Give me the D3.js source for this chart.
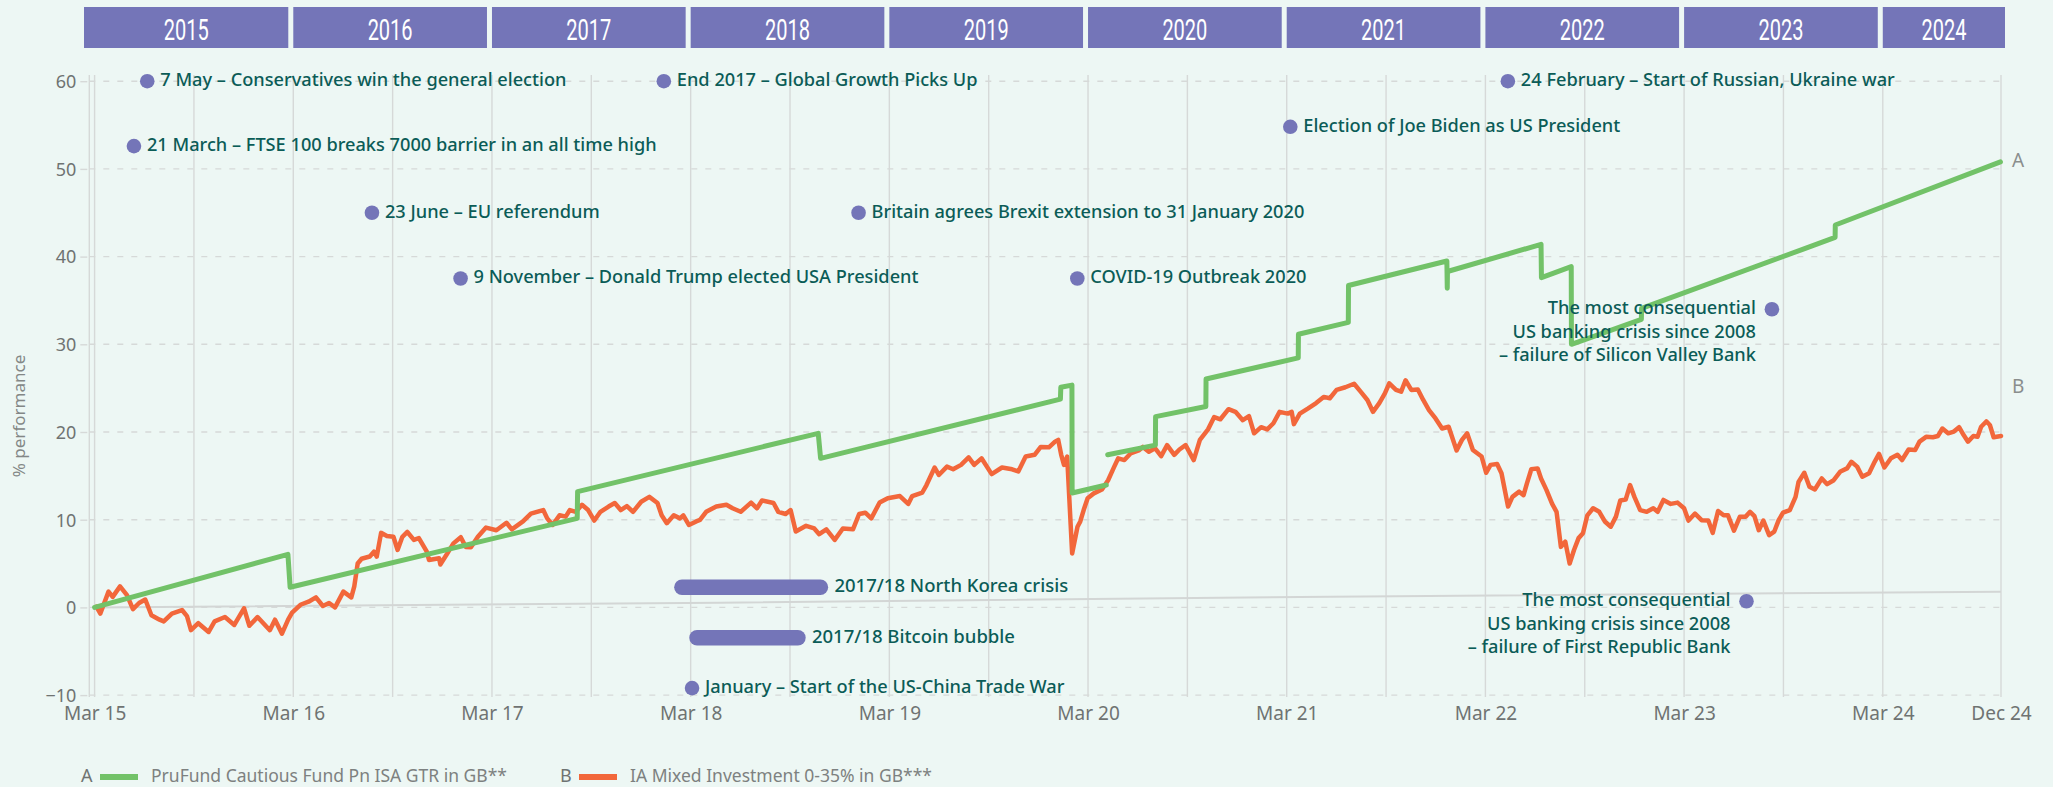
<!DOCTYPE html>
<html>
<head>
<meta charset="utf-8">
<script src="https://cdn.jsdelivr.net/npm/d3@7"></script>
<style>
  html, body { margin: 0; padding: 0; background: #edf7f4; }
  svg { display: block; }
</style>
</head>
<body>
<div id="chart"></div>
<script>
// x values are years since March 2015, y values are % performance

const years = [2015, 2016, 2017, 2018, 2019, 2020, 2021, 2022, 2023, 2024];
const xTicks = [0, 1, 2, 3, 4, 5, 6, 7, 8, 9, 9.595];
const xTickLabels = ["Mar 15", "Mar 16", "Mar 17", "Mar 18", "Mar 19", "Mar 20", "Mar 21", "Mar 22", "Mar 23", "Mar 24", "Dec 24"];
const xGrid = [0, 0.5, 1, 1.5, 2, 2.5, 3, 3.5, 4, 4.5, 5, 5.5, 6, 6.5, 7, 7.5, 8, 8.5, 9, 9.595];
const yTicks = [-10, 0, 10, 20, 30, 40, 50, 60];

const seriesKeys = ["A", "B"];
const seriesNames = ["PruFund Cautious Fund Pn ISA GTR in GB**", "IA Mixed Investment 0-35% in GB***"];
const endLabelValues = [50.8, 25];

// A - PruFund Cautious (smoothed, with unit price adjustments)
const pruFund = [
  [0, 0], [0.973, 6.05], [0.984, 2.3], [2.429, 10.15], [2.431, 13.2],
  [3.642, 19.85], [3.654, 17.0], [4.861, 23.75], [4.863, 25.1], [4.919, 25.35],
  [4.920, 13.05], [5.092, 13.95], null,
  [5.099, 17.4], [5.339, 18.5], [5.340, 21.75], [5.593, 22.9], [5.594, 26.05],
  [6.058, 28.45], [6.059, 31.15], [6.310, 32.5], [6.311, 36.7], [6.806, 39.5],
  [6.808, 36.4], [6.809, 38.3], [7.280, 41.4], [7.282, 37.6], [7.432, 38.85],
  [7.433, 30.0], [7.785, 32.85], [7.786, 34.1], [8.593, 40.8], [8.760, 42.2],
  [8.761, 43.6], [9.592, 50.8]
];

// B - IA Mixed Investment 0-35%
const mixedInvest = [
  [0.009, 0.08], [0.029, -0.7], [0.070, 1.8], [0.091, 1.2], [0.128, 2.4], [0.163, 1.4],
  [0.193, -0.2], [0.224, 0.5], [0.255, 0.9], [0.286, -0.9], [0.327, -1.4], [0.348, -1.6],
  [0.389, -0.7], [0.440, -0.3], [0.465, -1.0], [0.485, -2.6], [0.522, -1.8], [0.574, -2.8],
  [0.604, -1.6], [0.656, -1.1], [0.703, -2.0], [0.752, -0.1], [0.779, -2.1], [0.820, -1.1],
  [0.882, -2.6], [0.908, -1.4], [0.943, -3.0], [0.974, -1.4], [0.994, -0.6], [1.036, 0.3],
  [1.077, 0.65], [1.114, 1.15], [1.149, 0.16], [1.180, 0.5], [1.210, 0.0], [1.252, 1.8],
  [1.292, 1.15], [1.307, 2.4], [1.324, 5.0], [1.344, 5.55], [1.385, 5.8], [1.406, 6.35],
  [1.420, 5.8], [1.442, 8.5], [1.471, 8.15], [1.504, 8.05], [1.525, 6.55], [1.549, 8.05],
  [1.574, 8.6], [1.607, 7.7], [1.632, 7.9], [1.672, 6.35], [1.683, 5.4], [1.734, 5.6],
  [1.740, 4.9], [1.775, 6.15], [1.806, 7.3], [1.843, 8.0], [1.868, 6.9], [1.894, 6.85],
  [1.929, 8.05], [1.970, 9.1], [2.022, 8.8], [2.073, 9.65], [2.100, 8.9], [2.156, 9.8],
  [2.196, 10.7], [2.258, 11.1], [2.278, 10.15], [2.305, 9.4], [2.340, 10.5], [2.371, 10.35],
  [2.392, 11.1], [2.422, 10.9], [2.453, 11.7], [2.484, 11.1], [2.515, 9.9], [2.546, 10.9],
  [2.587, 11.5], [2.618, 11.9], [2.648, 11.1], [2.679, 11.55], [2.710, 10.9], [2.751, 12.05],
  [2.792, 12.6], [2.833, 11.9], [2.854, 10.5], [2.880, 9.6], [2.915, 10.5], [2.946, 10.15],
  [2.963, 10.5], [2.991, 9.4], [3.028, 9.8], [3.047, 9.97], [3.078, 10.9], [3.129, 11.5],
  [3.180, 11.7], [3.211, 11.3], [3.252, 10.9], [3.304, 11.95], [3.334, 11.3], [3.359, 12.2],
  [3.417, 11.9], [3.441, 10.9], [3.478, 10.65], [3.503, 11.1], [3.529, 8.65], [3.581, 9.3],
  [3.622, 9.0], [3.647, 8.35], [3.683, 8.9], [3.725, 7.7], [3.766, 9.0], [3.817, 8.9],
  [3.848, 10.65], [3.879, 10.8], [3.909, 10.15], [3.951, 11.95], [3.992, 12.45], [4.053, 12.7],
  [4.095, 11.8], [4.115, 12.7], [4.166, 13.1], [4.187, 13.95], [4.228, 15.95], [4.249, 15.1],
  [4.290, 16.05], [4.321, 15.75], [4.361, 16.25], [4.399, 17.1], [4.427, 16.25], [4.464, 17.0],
  [4.515, 15.2], [4.567, 15.95], [4.618, 15.75], [4.649, 15.5], [4.686, 17.2], [4.731, 17.4],
  [4.762, 18.3], [4.803, 18.25], [4.834, 18.9], [4.850, 19.1], [4.865, 17.4], [4.879, 16.25],
  [4.895, 17.2], [4.920, 6.15], [4.947, 9.2], [4.961, 9.8], [4.978, 11.1], [4.998, 12.45],
  [5.029, 13.0], [5.070, 13.45], [5.101, 14.5], [5.132, 16.05], [5.152, 17.0], [5.183, 16.8],
  [5.214, 17.55], [5.255, 17.9], [5.276, 18.3], [5.306, 17.75], [5.337, 18.15], [5.368, 17.25],
  [5.398, 18.5], [5.434, 17.4], [5.460, 18.0], [5.491, 18.5], [5.532, 16.8], [5.563, 19.1],
  [5.604, 20.3], [5.635, 21.7], [5.666, 21.45], [5.707, 22.6], [5.742, 22.3], [5.779, 21.35],
  [5.810, 21.8], [5.836, 19.85], [5.871, 20.55], [5.902, 20.3], [5.933, 21.0], [5.964, 22.3],
  [6.005, 22.1], [6.025, 22.3], [6.036, 20.9], [6.066, 22.1], [6.108, 22.7], [6.148, 23.3],
  [6.186, 24.0], [6.217, 23.85], [6.251, 24.8], [6.295, 25.1], [6.339, 25.5], [6.372, 24.6],
  [6.406, 23.65], [6.434, 22.3], [6.466, 23.3], [6.494, 24.4], [6.516, 25.55], [6.550, 24.8],
  [6.576, 24.6], [6.598, 25.9], [6.627, 24.8], [6.660, 24.85], [6.687, 23.65], [6.716, 22.5],
  [6.749, 21.55], [6.782, 20.4], [6.815, 20.6], [6.855, 17.9], [6.882, 19.1], [6.908, 19.85],
  [6.937, 17.95], [6.981, 17.2], [7.004, 15.35], [7.026, 16.25], [7.059, 16.35], [7.081, 15.3],
  [7.114, 11.5], [7.136, 12.6], [7.170, 13.2], [7.192, 12.8], [7.209, 14.15], [7.231, 15.75],
  [7.263, 15.85], [7.280, 14.7], [7.307, 13.4], [7.336, 11.8], [7.358, 10.9], [7.380, 6.9],
  [7.402, 7.5], [7.424, 5.0], [7.446, 6.55], [7.469, 7.9], [7.491, 8.45], [7.513, 10.5],
  [7.542, 11.3], [7.573, 10.9], [7.601, 9.8], [7.631, 9.2], [7.657, 10.35], [7.679, 12.2],
  [7.706, 12.3], [7.728, 13.95], [7.750, 12.6], [7.779, 11.1], [7.812, 10.9], [7.845, 11.3],
  [7.867, 10.9], [7.896, 12.25], [7.933, 11.8], [7.967, 11.95], [8.000, 11.3], [8.022, 9.9],
  [8.055, 10.7], [8.088, 9.95], [8.122, 9.9], [8.144, 8.5], [8.171, 11.0], [8.199, 10.5],
  [8.221, 10.5], [8.251, 8.75], [8.281, 10.35], [8.310, 10.35], [8.332, 10.9], [8.354, 10.4],
  [8.376, 8.8], [8.399, 9.9], [8.428, 8.25], [8.454, 8.65], [8.476, 9.95], [8.498, 10.8],
  [8.532, 11.1], [8.561, 12.6], [8.576, 14.3], [8.605, 15.35], [8.631, 13.75], [8.658, 13.45],
  [8.693, 14.7], [8.720, 14.05], [8.753, 14.5], [8.787, 15.5], [8.820, 15.85], [8.842, 16.6],
  [8.871, 16.05], [8.897, 14.9], [8.931, 15.3], [8.959, 16.6], [8.981, 17.5], [9.008, 15.95],
  [9.041, 17.0], [9.074, 17.4], [9.097, 16.8], [9.130, 18.0], [9.163, 17.95], [9.185, 18.9],
  [9.218, 19.45], [9.252, 19.4], [9.278, 19.55], [9.300, 20.4], [9.329, 19.85], [9.358, 20.05],
  [9.384, 20.55], [9.407, 19.65], [9.429, 18.9], [9.456, 19.55], [9.477, 19.45], [9.495, 20.6],
  [9.521, 21.2], [9.539, 20.8], [9.558, 19.4], [9.595, 19.55]
];

// thin grey reference line
const baseline = [[0, 0], [3.15, 0.54], [6.22, 1.22], [9.595, 1.79]];

// dated events (dot + text)
const events = [
  {t: 0.265, v: 60, side: "right", text: ["7 May – Conservatives win the general election"]},
  {t: 0.198, v: 52.6, side: "right", text: ["21 March – FTSE 100 breaks 7000 barrier in an all time high"]},
  {t: 1.396, v: 45, side: "right", text: ["23 June – EU referendum"]},
  {t: 1.842, v: 37.5, side: "right", text: ["9 November – Donald Trump elected USA President"]},
  {t: 2.865, v: 60, side: "right", text: ["End 2017 – Global Growth Picks Up"]},
  {t: 3.845, v: 45, side: "right", text: ["Britain agrees Brexit extension to 31 January 2020"]},
  {t: 4.946, v: 37.5, side: "right", text: ["COVID-19 Outbreak 2020"]},
  {t: 6.018, v: 54.8, side: "right", text: ["Election of Joe Biden as US President"]},
  {t: 7.113, v: 60, side: "right", text: ["24 February – Start of Russian, Ukraine war"]},
  {t: 8.442, v: 34, side: "left", text: ["The most consequential", "US banking crisis since 2008", "– failure of Silicon Valley Bank"]},
  {t: 8.314, v: 0.7, side: "left", text: ["The most consequential", "US banking crisis since 2008", "– failure of First Republic Bank"]},
  {t: 3.007, v: -9.2, side: "right", text: ["January – Start of the US-China Trade War"]}
];

// periods (bar + text)
const periods = [
  {t0: 2.956, t1: 3.653, v: 2.3, text: "2017/18 North Korea crisis"},
  {t0: 3.032, t1: 3.540, v: -3.45, text: "2017/18 Bitcoin bubble"}
];

const W = 2053, H = 787;
const purple = "#7475b8", teal = "#0b5c57", green = "#72c268", orange = "#f2673b";
const gridCol = "#d6d9d8", axisText = "#6f7372";
const font = "'Noto Sans', Lato, sans-serif";

const x = d3.scaleLinear().domain([0, 9.595]).range([94.6, 2001]);
const y = d3.scaleLinear().domain([-10, 60]).range([695.1, 81.2]);
const plotTop = 75, plotBottom = 697, axisX = 89.3;

const svg = d3.select("#chart").append("svg")
  .attr("width", W).attr("height", H)
  .style("font-family", font);

svg.append("rect").attr("width", W).attr("height", H).attr("fill", "#edf7f4");

// vertical grid
svg.append("g").selectAll("line").data(xGrid).join("line")
  .attr("x1", d => x(d)).attr("x2", d => x(d))
  .attr("y1", plotTop).attr("y2", plotBottom)
  .attr("stroke", gridCol).attr("stroke-width", 1.4);

// horizontal dashed grid
svg.append("g").selectAll("line").data(yTicks).join("line")
  .attr("x1", axisX).attr("x2", x.range()[1])
  .attr("y1", d => y(d)).attr("y2", d => y(d))
  .attr("stroke", gridCol).attr("stroke-width", 1.4)
  .attr("stroke-dasharray", "6,8");

// y axis
const yAxis = svg.append("g").attr("transform", `translate(${axisX},0)`)
  .call(d3.axisLeft(y).tickValues(yTicks).tickSize(9).tickPadding(5));
yAxis.select(".domain").attr("d", `M0,${plotTop}V${plotBottom}`).attr("stroke", gridCol).attr("stroke-width", 1.4);
yAxis.selectAll(".tick line").attr("stroke", gridCol).attr("stroke-width", 1.4).attr("x2", -9).attr("x1", -2);
yAxis.selectAll(".tick text").attr("fill", axisText).style("font-size", "18px").style("font-family", font)
  .attr("x", -13).attr("dy", "0.35em");

svg.append("text")
  .attr("transform", "translate(20,416) rotate(-90)")
  .attr("text-anchor", "middle").attr("dominant-baseline", "middle")
  .attr("fill", "#838786").style("font-size", "17px")
  .text("% performance");

// x axis labels
const xAxis = svg.append("g").attr("transform", `translate(0,${plotBottom})`)
  .call(d3.axisBottom(x).tickValues(xTicks).tickSize(0).tickPadding(10)
    .tickFormat((d, i) => xTickLabels[i]));
xAxis.select(".domain").remove();
xAxis.selectAll(".tick text").attr("fill", axisText).style("font-size", "19px").style("font-family", font);

// reference line
const line = d3.line().defined(d => d).x(d => x(d[0])).y(d => y(d[1]));
svg.append("path").datum(baseline).attr("d", line)
  .attr("fill", "none").attr("stroke", "#d3d6d5").attr("stroke-width", 2);

// series
svg.append("path").datum(mixedInvest).attr("d", line)
  .attr("fill", "none").attr("stroke", orange).attr("stroke-width", 4.5)
  .attr("stroke-linejoin", "round").attr("stroke-linecap", "round");
svg.append("path").datum(pruFund).attr("d", line)
  .attr("fill", "none").attr("stroke", green).attr("stroke-width", 5)
  .attr("stroke-linejoin", "round").attr("stroke-linecap", "round");

// end labels
svg.append("g").selectAll("text").data(seriesKeys).join("text")
  .attr("x", x.range()[1] + 11).attr("y", (d, i) => y(endLabelValues[i]))
  .attr("dominant-baseline", "middle").attr("fill", "#8a8e8d")
  .style("font-size", "19px").text(d => d);

// periods
const per = svg.append("g").selectAll("g").data(periods).join("g");
per.append("line")
  .attr("x1", d => x(d.t0)).attr("x2", d => x(d.t1))
  .attr("y1", d => y(d.v)).attr("y2", d => y(d.v))
  .attr("stroke", purple).attr("stroke-width", 15.5).attr("stroke-linecap", "round");
per.append("text")
  .attr("x", d => x(d.t1) + 14).attr("y", d => y(d.v))
  .attr("dominant-baseline", "middle").attr("fill", teal)
  .style("font-size", "18.5px").style("font-weight", 500).text(d => d.text);

// events
const ev = svg.append("g").selectAll("g").data(events).join("g")
  .attr("transform", d => `translate(${x(d.t)},${y(d.v)})`);
ev.append("circle").attr("r", 7.3).attr("fill", purple);
ev.append("text")
  .attr("text-anchor", d => d.side === "left" ? "end" : "start")
  .attr("fill", teal).style("font-size", "18.2px").style("font-weight", 500)
  .selectAll("tspan").data(d => d.text.map(s => ({s, side: d.side}))).join("tspan")
  .attr("x", d => d.side === "left" ? -16 : 13)
  .attr("y", (d, i) => i * 23.5)
  .attr("dominant-baseline", "middle")
  .text(d => d.s);

// year boxes
const last = years.length - 1;
const yb = svg.append("g").selectAll("g").data(years).join("g");
const bx0 = (d, i) => i === 0 ? x(0) - 10.6 : x(i);
const bx1 = (d, i) => i === last ? x.range()[1] + 4 : x(i + 1) - 5;
yb.append("rect")
  .attr("x", bx0).attr("y", 7)
  .attr("width", (d, i) => bx1(d, i) - bx0(d, i)).attr("height", 41)
  .attr("fill", purple);
yb.append("text")
  .attr("x", (d, i) => (bx0(d, i) + bx1(d, i)) / 2).attr("y", 39.5)
  .attr("text-anchor", "middle").attr("fill", "#fff")
  .attr("textLength", 45).attr("lengthAdjust", "spacingAndGlyphs")
  .style("font-family", "Roboto, 'DejaVu Sans', sans-serif").style("font-weight", 400)
  .style("font-size", "29px").text(d => d);

// legend
const legendX = [81, 560];
const lg = svg.append("g").selectAll("g").data(seriesKeys).join("g")
  .attr("transform", (d, i) => `translate(${legendX[i]},777)`);
lg.append("text").attr("dominant-baseline", "middle").attr("fill", "#6f7372")
  .style("font-size", "18px").text(d => d);
lg.append("line").attr("x1", 19).attr("x2", 57)
  .attr("stroke", (d, i) => [green, orange][i]).attr("stroke-width", 6);
lg.append("text").attr("x", 70).attr("dominant-baseline", "middle").attr("fill", "#7d8180")
  .style("font-size", "17.5px").text((d, i) => seriesNames[i]);
</script>
</body>
</html>
